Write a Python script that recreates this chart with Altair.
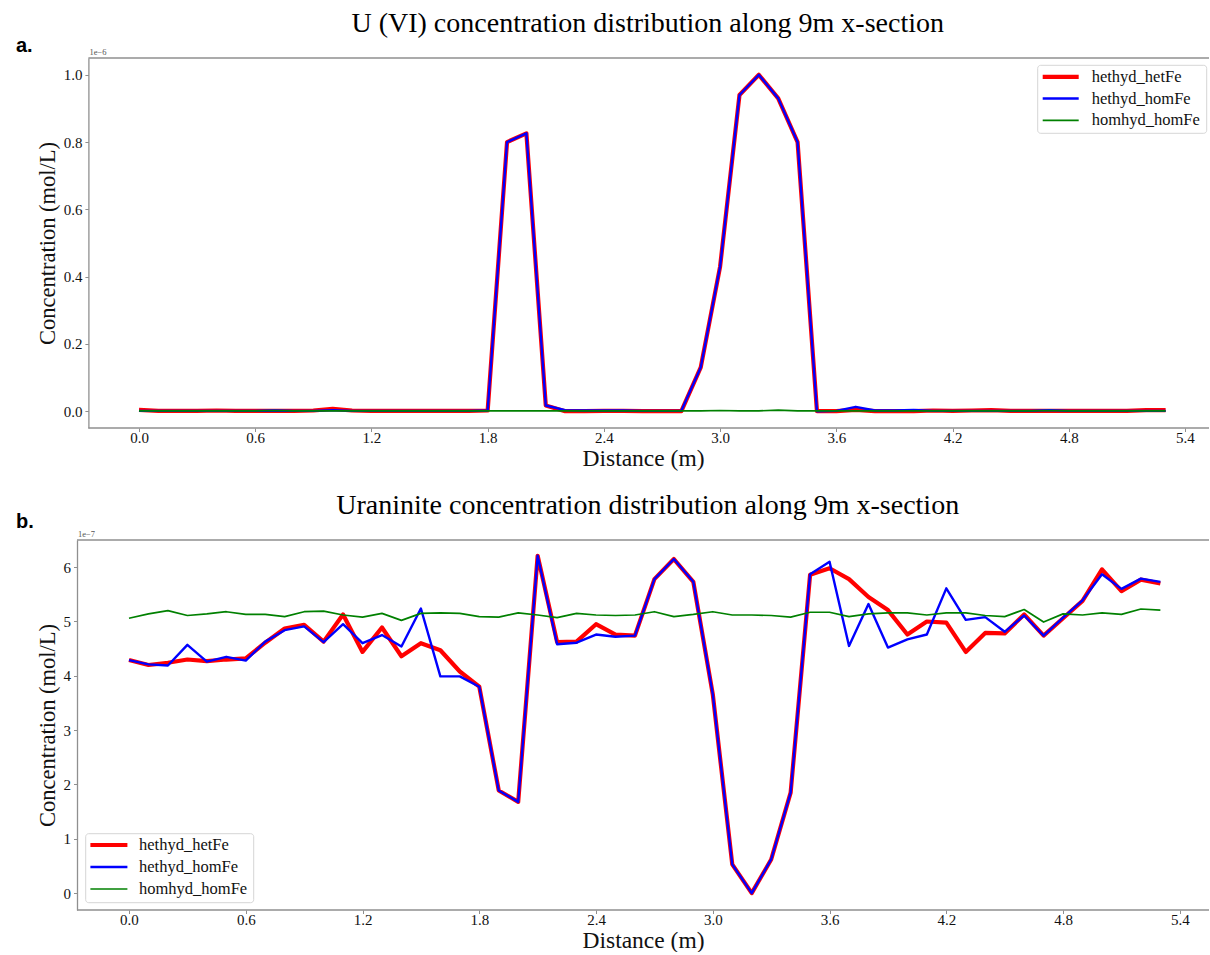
import altair as alt
import pandas as pd

# ---------------- data ----------------
distance = [0.0, 0.1, 0.2, 0.3, 0.4, 0.5, 0.6, 0.7, 0.8, 0.9,
            1.0, 1.1, 1.2, 1.3, 1.4, 1.5, 1.6, 1.7, 1.8, 1.9,
            2.0, 2.1, 2.2, 2.3, 2.4, 2.5, 2.6, 2.7, 2.8, 2.9,
            3.0, 3.1, 3.2, 3.3, 3.4, 3.5, 3.6, 3.7, 3.8, 3.9,
            4.0, 4.1, 4.2, 4.3, 4.4, 4.5, 4.6, 4.7, 4.8, 4.9,
            5.0, 5.1, 5.2, 5.3]

series_names = ["hethyd_hetFe", "hethyd_homFe", "homhyd_homFe"]
series_colors = ["#ff0000", "#0000ff", "#008000"]
series_widths = [4.2, 2.4, 1.7]

# U(VI) concentration, units of 1e-6 mol/L
u6_hethyd_hetFe = [0.004, 0.001, 0.001, 0.001, 0.002, 0.001, 0.001, 0.001, 0.001, 0.002,
                   0.007, 0.002, 0.001, 0.001, 0.001, 0.001, 0.001, 0.001, 0.002, 0.800,
                   0.826, 0.017, 0.000, 0.000, 0.001, 0.001, 0.000, 0.000, 0.000, 0.130,
                   0.430, 0.940, 1.000, 0.930, 0.800, 0.000, 0.000, 0.004, 0.000, 0.000,
                   0.000, 0.002, 0.001, 0.002, 0.003, 0.001, 0.001, 0.001, 0.001, 0.001,
                   0.001, 0.001, 0.003, 0.003]
u6_hethyd_homFe = [0.001, 0.001, 0.001, 0.001, 0.001, 0.001, 0.001, 0.002, 0.001, 0.001,
                   0.003, 0.001, 0.001, 0.001, 0.001, 0.001, 0.001, 0.001, 0.002, 0.800,
                   0.826, 0.017, 0.003, 0.002, 0.002, 0.002, 0.001, 0.001, 0.001, 0.130,
                   0.430, 0.940, 1.000, 0.930, 0.800, 0.000, 0.001, 0.013, 0.002, 0.002,
                   0.004, 0.001, 0.001, 0.001, 0.001, 0.001, 0.001, 0.003, 0.001, 0.001,
                   0.001, 0.001, 0.001, 0.001]
u6_homhyd_homFe = [0.001, 0.001, 0.001, 0.001, 0.001, 0.001, 0.001, 0.002, 0.001, 0.001,
                   0.001, 0.001, 0.001, 0.001, 0.001, 0.001, 0.001, 0.001, 0.001, 0.001,
                   0.001, 0.001, 0.001, 0.001, 0.001, 0.001, 0.001, 0.001, 0.001, 0.001,
                   0.002, 0.001, 0.001, 0.003, 0.001, 0.001, 0.001, 0.001, 0.001, 0.001,
                   0.001, 0.001, 0.001, 0.001, 0.001, 0.001, 0.001, 0.002, 0.001, 0.001,
                   0.001, 0.001, 0.001, 0.001]

# Uraninite concentration, units of 1e-7 mol/L
ur_hethyd_hetFe = [4.29, 4.20, 4.24, 4.30, 4.27, 4.30, 4.32, 4.61, 4.87, 4.94,
                   4.63, 5.13, 4.44, 4.89, 4.36, 4.60, 4.47, 4.08, 3.80, 1.89,
                   1.68, 6.21, 4.62, 4.63, 4.95, 4.76, 4.74, 5.78, 6.15, 5.73,
                   3.66, 0.53, 0.00, 0.62, 1.85, 5.86, 5.98, 5.78, 5.45, 5.21,
                   4.76, 5.00, 4.98, 4.44, 4.79, 4.78, 5.13, 4.74, 5.06, 5.38,
                   5.96, 5.56, 5.77, 5.70]
ur_hethyd_homFe = [4.29, 4.21, 4.19, 4.57, 4.26, 4.35, 4.28, 4.63, 4.84, 4.91,
                   4.62, 4.95, 4.60, 4.75, 4.54, 5.24, 3.99, 3.99, 3.80, 1.89,
                   1.68, 6.21, 4.58, 4.61, 4.76, 4.72, 4.74, 5.78, 6.15, 5.73,
                   3.66, 0.53, 0.00, 0.62, 1.85, 5.87, 6.10, 4.55, 5.32, 4.52,
                   4.67, 4.76, 5.61, 5.03, 5.08, 4.81, 5.11, 4.74, 5.07, 5.39,
                   5.87, 5.60, 5.79, 5.73]
ur_homhyd_homFe = [5.06, 5.14, 5.20, 5.11, 5.14, 5.18, 5.13, 5.13, 5.09, 5.18,
                   5.19, 5.12, 5.08, 5.15, 5.02, 5.15, 5.16, 5.15, 5.09, 5.08,
                   5.16, 5.12, 5.07, 5.15, 5.12, 5.11, 5.12, 5.18, 5.09, 5.13,
                   5.18, 5.12, 5.12, 5.11, 5.08, 5.17, 5.17, 5.09, 5.14, 5.16,
                   5.16, 5.12, 5.16, 5.16, 5.11, 5.09, 5.22, 4.99, 5.14, 5.12,
                   5.16, 5.13, 5.23, 5.21]

x_ticks = [0.0, 0.6, 1.2, 1.8, 2.4, 3.0, 3.6, 4.2, 4.8, 5.4]
u6_y_ticks = [0.0, 0.2, 0.4, 0.6, 0.8, 1.0]
ur_y_ticks = [0, 1, 2, 3, 4, 5, 6]

titles = ["U (VI) concentration distribution along 9m x-section",
          "Uraninite concentration distribution along 9m x-section"]
panel_labels = ["a.", "b."]
exponent_labels = ["1e\u22126", "1e\u22127"]
x_title = "Distance (m)"
y_title = "Concentration (mol/L)"

# ---------------- style ----------------
W, H = 1132, 370
SERIF = "Liberation Serif"
SANS = "Liberation Sans"
SPINE = "#8f8f8f"
TXT = "#111111"

color_scale = alt.Scale(domain=series_names, range=series_colors)
one = pd.DataFrame({"k": [0]})


def long_df(values_by_series):
    rows = []
    for name, vals in zip(series_names, values_by_series):
        for d, v in zip(distance, vals):
            rows.append({"distance": d, "conc": v, "series": name})
    return pd.DataFrame(rows)


def panel(values, title, label, label_y, exp_text, x_domain, y_domain, y_ticks,
          y_format, spine_x, box, rows_y, sym_x, text_x):
    df = long_df(values)
    xenc = alt.X("distance:Q",
                 scale=alt.Scale(domain=x_domain, nice=False, zero=False),
                 axis=alt.Axis(values=x_ticks, format=".1f", title=x_title,
                               domain=False, grid=False, tickColor=SPINE,
                               tickSize=3.5, tickWidth=1, labelFont=SERIF,
                               labelFontSize=15, labelColor=TXT, labelPadding=-1,
                               labelFlush=False, labelOverlap=False,
                               titleFont=SERIF, titleFontSize=23.5,
                               titleFontWeight="normal", titleColor=TXT,
                               titlePadding=1))
    yenc = alt.Y("conc:Q",
                 scale=alt.Scale(domain=y_domain, nice=False, zero=False),
                 axis=alt.Axis(values=y_ticks, format=y_format, title=y_title,
                               domain=True, domainColor=SPINE, domainWidth=1.3,
                               offset=-spine_x, grid=False, tickColor=SPINE,
                               tickSize=3.5, tickWidth=1, labelFont=SERIF,
                               labelFontSize=15, labelColor=TXT, labelPadding=3,
                               labelFlush=False, labelOverlap=False,
                               titleFont=SERIF, titleFontSize=22.5,
                               titleFontWeight="normal", titleColor=TXT,
                               titlePadding=4))
    lines = alt.layer(*[
        alt.Chart(df).transform_filter(alt.datum.series == s)
        .mark_line(strokeJoin="round", strokeCap="butt", strokeWidth=w)
        .encode(x=xenc, y=yenc,
                color=alt.Color("series:N", scale=color_scale, legend=None))
        for s, w in zip(series_names, series_widths)
    ])

    top_rule = alt.Chart(one).mark_rule(color=SPINE, strokeWidth=1.3).encode(
        x=alt.value(spine_x), x2=alt.value(W), y=alt.value(0))
    bottom_rule = alt.Chart(one).mark_rule(color=SPINE, strokeWidth=1.3).encode(
        x=alt.value(spine_x), x2=alt.value(W), y=alt.value(H))

    leg_df = pd.DataFrame({"series": series_names, "row": [0, 1, 2]})
    leg_y = alt.Y("row:Q", scale=alt.Scale(domain=[0, 2], range=[rows_y[0], rows_y[1]]),
                  axis=None)
    leg_box = alt.Chart(one).mark_rect(fill="white", stroke="#d6d6d6", strokeWidth=1,
                                       cornerRadius=3).encode(
        x=alt.value(box[0]), x2=alt.value(box[1]), y=alt.value(box[2]), y2=alt.value(box[3]))
    leg_syms = [
        alt.Chart(leg_df).transform_filter(alt.datum.series == s)
        .mark_rule(strokeWidth=w)
        .encode(x=alt.value(sym_x[0]), x2=alt.value(sym_x[1]), y=leg_y,
                color=alt.Color("series:N", scale=color_scale, legend=None))
        for s, w in zip(series_names, series_widths)
    ]
    leg_txt = alt.Chart(leg_df).mark_text(align="left", baseline="middle", font=SERIF,
                                          fontSize=16.5, color=TXT).encode(
        x=alt.value(text_x), y=leg_y, text="series:N")
    legend = alt.layer(leg_box, *leg_syms, leg_txt)

    title_mark = alt.Chart(pd.DataFrame({"t": [title]})).mark_text(
        font=SERIF, fontSize=28, align="center", baseline="alphabetic", color="black"
    ).encode(x=alt.value(570.7), y=alt.value(-26), text="t:N")
    exp_mark = alt.Chart(pd.DataFrame({"t": [exp_text]})).mark_text(
        font=SERIF, fontSize=8.5, align="left", baseline="alphabetic", color="#555555"
    ).encode(x=alt.value(spine_x + 1), y=alt.value(-3), text="t:N")
    label_mark = alt.Chart(pd.DataFrame({"t": [label]})).mark_text(
        font=SANS, fontSize=20, fontWeight="bold", align="left", baseline="alphabetic",
        color="black"
    ).encode(x=alt.value(-61), y=alt.value(label_y), text="t:N")

    return alt.layer(top_rule, bottom_rule, lines, legend, title_mark, exp_mark,
                     label_mark).resolve_scale(y="independent").properties(width=W, height=H)


panel_a = panel([u6_hethyd_hetFe, u6_hethyd_homFe, u6_homhyd_homFe], titles[0],
                panel_labels[0], -6, exponent_labels[0],
                [-0.3201, 5.524], [-0.05, 1.05], u6_y_ticks, ".1f", 11.4,
                [960.7, 1129.7, 7.3, 75.3], [18.8, 62.3], [965.7, 1001.7], 1014.7)
panel_b = panel([ur_hethyd_hetFe, ur_hethyd_homFe, ur_homhyd_homFe], titles[1],
                panel_labels[1], -12, exponent_labels[1],
                [-0.2672, 5.5499], [-0.31, 6.5], ur_y_ticks, "d", 0,
                [8.7, 176.7, 293.7, 362.7], [305.0, 349.0], [13.4, 50.4], 62.0)

chart = alt.vconcat(panel_a, panel_b, spacing=112, bounds="flush").properties(
    padding={"left": 16, "top": 10, "right": 0, "bottom": 0},
    background="white",
).configure_view(stroke=None)

chart.save("out.html", embed_options={"renderer": "svg", "actions": False})
